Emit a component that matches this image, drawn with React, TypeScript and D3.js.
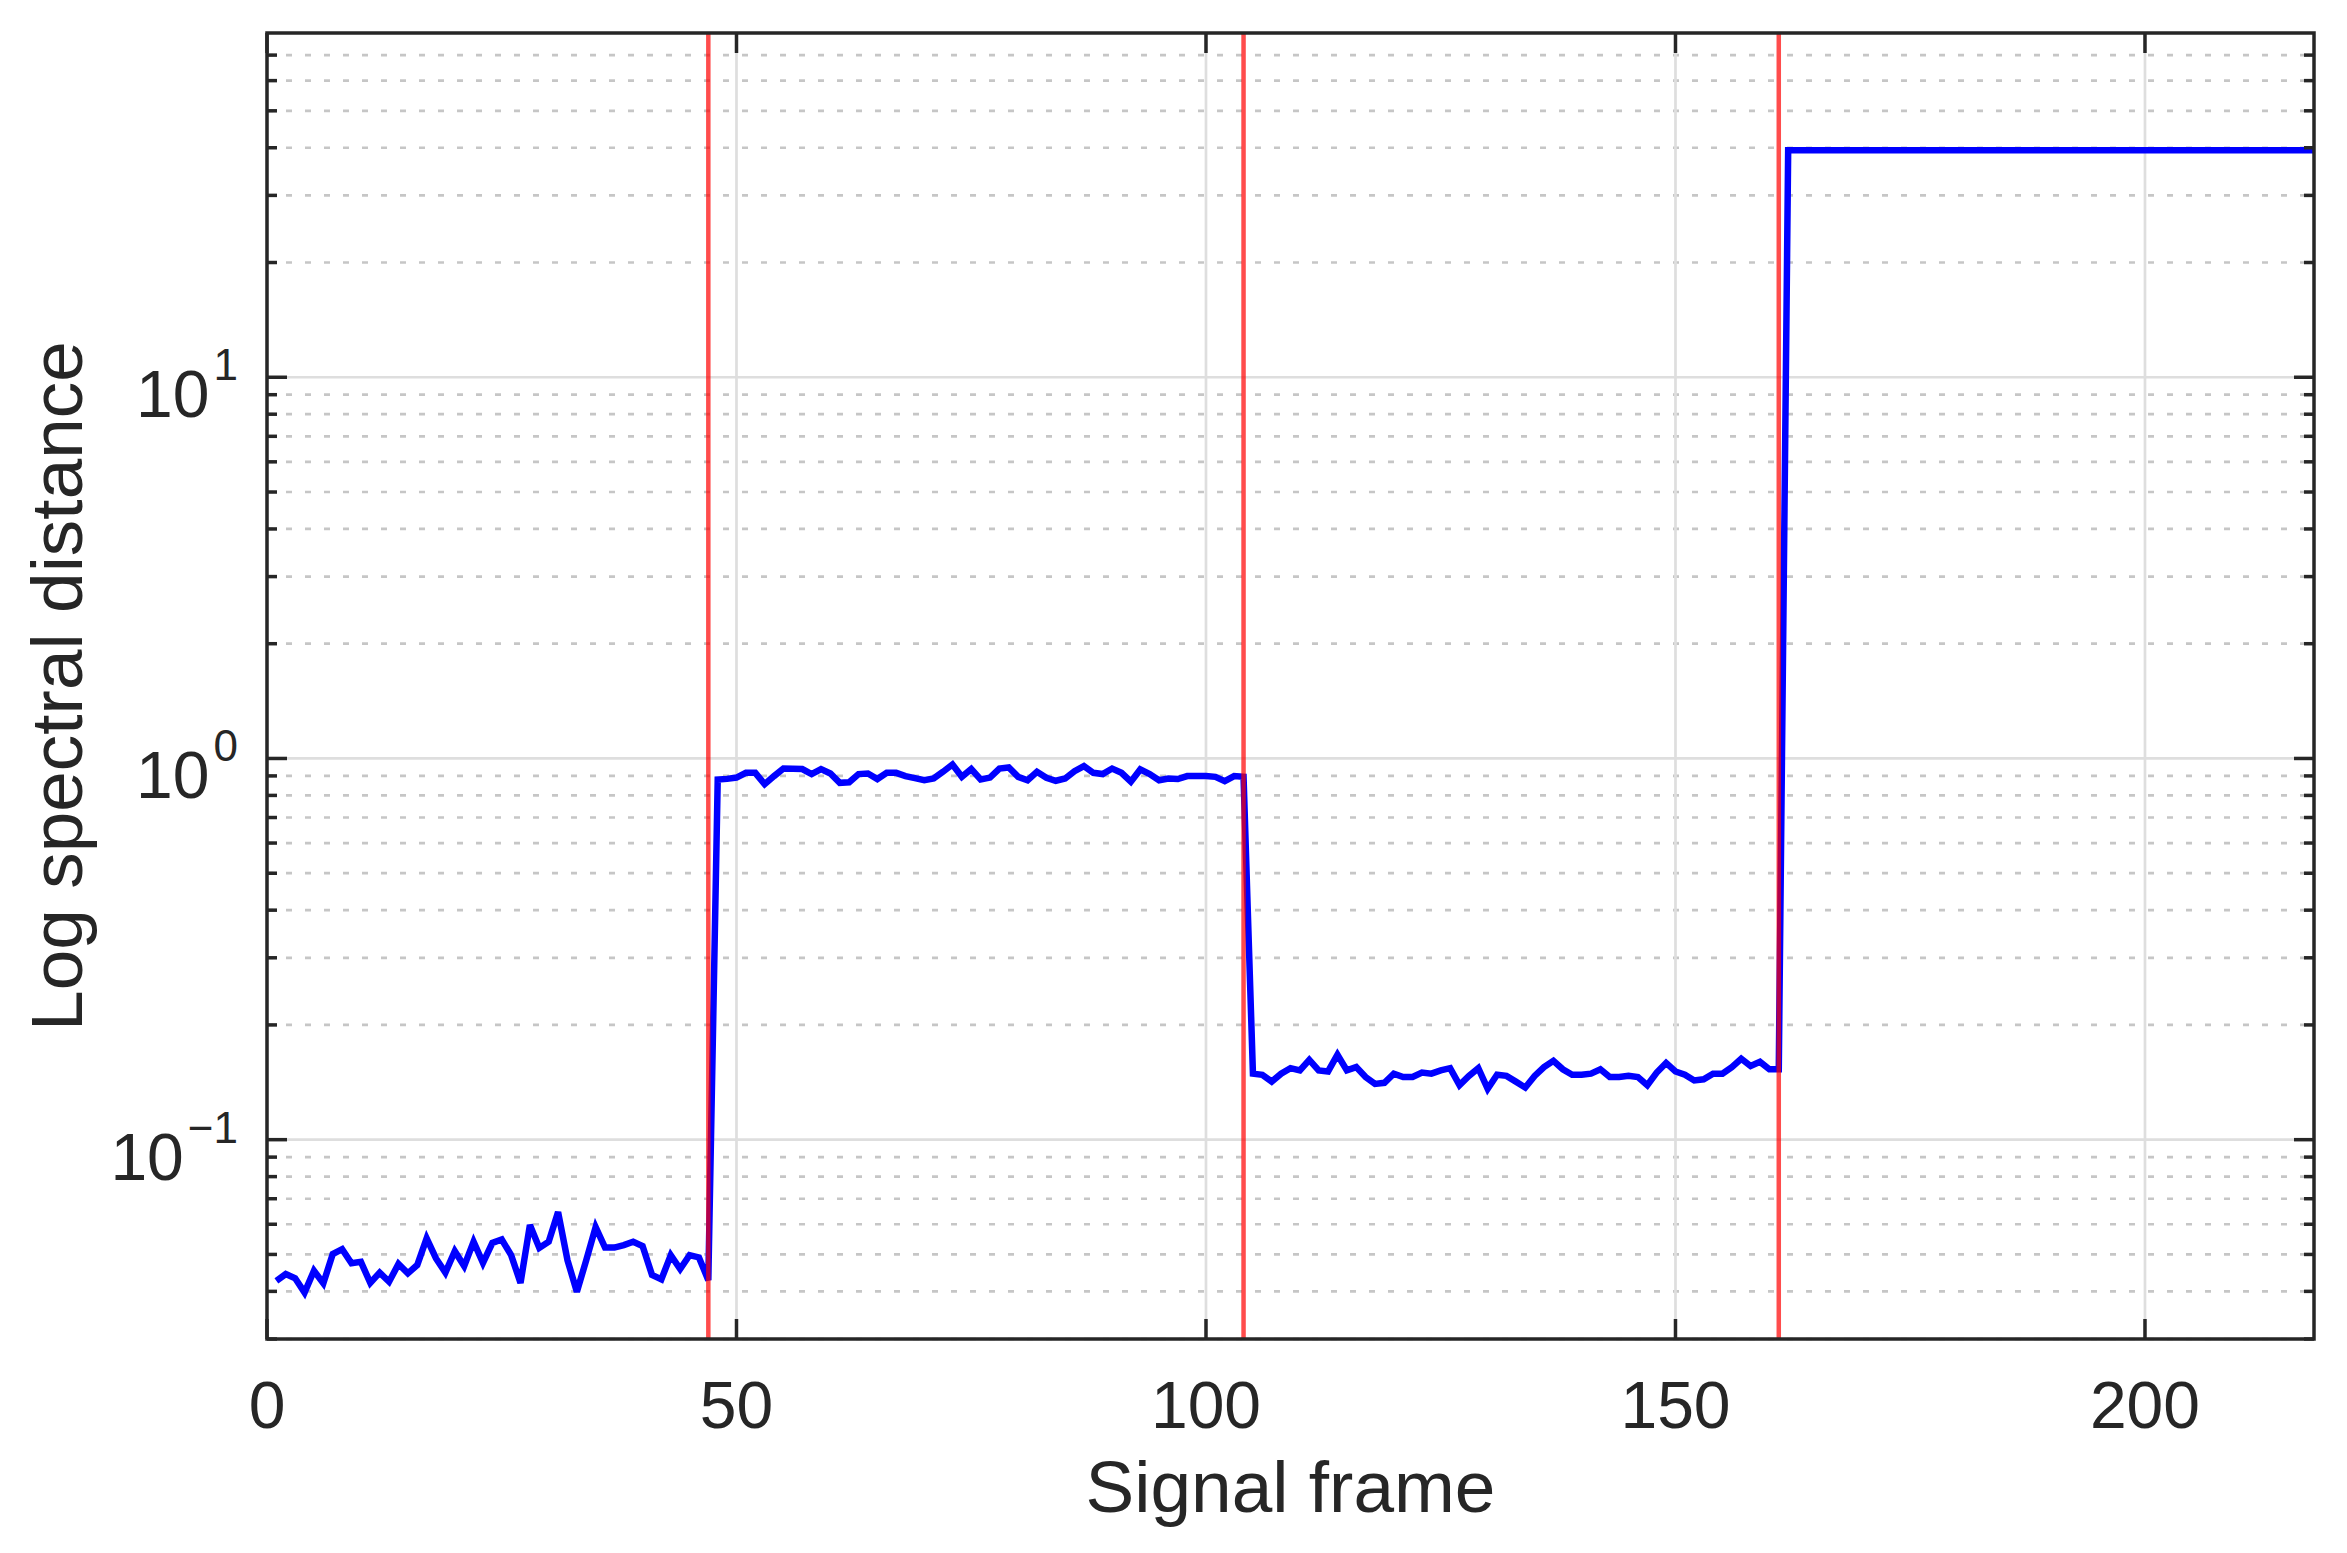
import React from 'react';
import * as d3 from 'd3';

const W = 2347;
const H = 1553;
const PLOT = { left: 267, right: 2314, top: 33, bottom: 1339 };
const X_DOMAIN: [number, number] = [0, 218];
const Y_DOMAIN: [number, number] = [0.03, 80];

const xTicks = [0, 50, 100, 150, 200];
const yMajorTicks = [0.1, 1, 10];
const yTickExponents = ['\u22121', '0', '1'];
const changePoints = [47, 104, 161];

// frames 1..47
const segmentA = [0.0426, 0.0444, 0.0433, 0.0397, 0.0453, 0.0420, 0.0501, 0.0516, 0.0474, 0.0478,
  0.0421, 0.0448, 0.0424, 0.0472, 0.0446, 0.0469, 0.0551, 0.0488, 0.0448, 0.0510,
  0.0466, 0.0540, 0.0475, 0.0536, 0.0547, 0.0498, 0.0421, 0.0597, 0.0520, 0.0540,
  0.0646, 0.0483, 0.0399, 0.0483, 0.0590, 0.0521, 0.0521, 0.0529, 0.0540, 0.0526,
  0.0442, 0.0430, 0.0498, 0.0458, 0.0498, 0.0491, 0.0428];
// frames 48..104
const segmentB = [0.881, 0.884, 0.891, 0.917, 0.917, 0.856, 0.899, 0.941, 0.940, 0.938,
  0.910, 0.938, 0.913, 0.863, 0.866, 0.910, 0.913, 0.883, 0.917, 0.917,
  0.899, 0.888, 0.877, 0.886, 0.923, 0.964, 0.895, 0.938, 0.881, 0.891,
  0.941, 0.947, 0.895, 0.877, 0.923, 0.890, 0.874, 0.886, 0.926, 0.955,
  0.917, 0.910, 0.941, 0.917, 0.869, 0.936, 0.910, 0.877, 0.886, 0.883,
  0.899, 0.899, 0.899, 0.895, 0.872, 0.899, 0.895];
// frames 105..161
const segmentC = [0.149, 0.148, 0.142, 0.149, 0.154, 0.152, 0.162, 0.152, 0.151, 0.167,
  0.152, 0.155, 0.146, 0.140, 0.141, 0.149, 0.146, 0.146, 0.150, 0.149,
  0.152, 0.154, 0.139, 0.147, 0.154, 0.136, 0.148, 0.147, 0.142, 0.137,
  0.147, 0.155, 0.161, 0.153, 0.148, 0.148, 0.149, 0.153, 0.146, 0.146,
  0.147, 0.146, 0.139, 0.150, 0.159, 0.151, 0.148, 0.143, 0.144, 0.149,
  0.149, 0.155, 0.163, 0.156, 0.160, 0.153, 0.153];
// frames 162..218
const segmentD = [39.4, 39.4, 39.4, 39.4, 39.4, 39.4, 39.4, 39.4, 39.4, 39.4,
  39.4, 39.4, 39.4, 39.4, 39.4, 39.4, 39.4, 39.4, 39.4, 39.4,
  39.4, 39.4, 39.4, 39.4, 39.4, 39.4, 39.4, 39.4, 39.4, 39.4,
  39.4, 39.4, 39.4, 39.4, 39.4, 39.4, 39.4, 39.4, 39.4, 39.4,
  39.4, 39.4, 39.4, 39.4, 39.4, 39.4, 39.4, 39.4, 39.4, 39.4,
  39.4, 39.4, 39.4, 39.4, 39.4, 39.4, 39.4];

const distances = [...segmentA, ...segmentB, ...segmentC, ...segmentD];

const FONT = 'Arial, "Liberation Sans", Helvetica, sans-serif';
const AX = '#262626';

export default function App() {
  const x = d3.scaleLinear().domain(X_DOMAIN).range([PLOT.left, PLOT.right]);
  const y = d3.scaleLog().domain(Y_DOMAIN).range([PLOT.bottom, PLOT.top]);

  const pts = distances.map((v, i) => [i + 1, v] as [number, number]);
  const linePath = d3.line<[number, number]>().x(d => x(d[0])).y(d => y(d[1]))(pts) || '';

  const minorTicks: number[] = [];
  for (let e = -2; e <= 1; e++) {
    for (let k = 2; k <= 9; k++) {
      const v = k * Math.pow(10, e);
      if (v >= Y_DOMAIN[0] && v < Y_DOMAIN[1]) minorTicks.push(v);
    }
  }

  const majorLen = 20;
  const minorLen = 10;
  const tickW = 3.5;

  return (
    <svg width={W} height={H} style={{ position: 'absolute', left: 0, top: 0, background: '#fff' }}
      xmlns="http://www.w3.org/2000/svg">
      <rect x={0} y={0} width={W} height={H} fill="#fff" />
      {/* minor grid */}
      {minorTicks.map(v => (
        <line key={'mg' + v} x1={PLOT.left} x2={PLOT.right} y1={y(v)} y2={y(v)}
          stroke="#c6c6c6" strokeWidth={2.7} strokeDasharray="6 13" />
      ))}
      {/* major grid */}
      {yMajorTicks.map(v => (
        <line key={'gy' + v} x1={PLOT.left} x2={PLOT.right} y1={y(v)} y2={y(v)}
          stroke="#dedede" strokeWidth={2.7} />
      ))}
      {xTicks.map(v => (
        <line key={'gx' + v} x1={x(v)} x2={x(v)} y1={PLOT.top} y2={PLOT.bottom}
          stroke="#dedede" strokeWidth={2.7} />
      ))}
      {/* data line */}
      <path d={linePath} fill="none" stroke="#0000ff" strokeWidth={6.5} strokeLinejoin="miter" strokeMiterlimit={3} />
      {/* change points */}
      {changePoints.map(c => (
        <line key={'cp' + c} x1={x(c)} x2={x(c)} y1={PLOT.top} y2={PLOT.bottom}
          stroke="#ff0000" strokeOpacity={0.7} strokeWidth={4.5} />
      ))}
      {/* ticks */}
      {xTicks.map(v => (
        <g key={'tx' + v}>
          <line x1={x(v)} x2={x(v)} y1={PLOT.bottom} y2={PLOT.bottom - majorLen} stroke={AX} strokeWidth={tickW} />
          <line x1={x(v)} x2={x(v)} y1={PLOT.top} y2={PLOT.top + majorLen} stroke={AX} strokeWidth={tickW} />
          <text x={x(v)} y={1428} textAnchor="middle" fontFamily={FONT} fontSize={66} fill={AX}>{v}</text>
        </g>
      ))}
      {minorTicks.map(v => (
        <g key={'mt' + v}>
          <line x1={PLOT.left} x2={PLOT.left + minorLen} y1={y(v)} y2={y(v)} stroke={AX} strokeWidth={tickW} />
          <line x1={PLOT.right} x2={PLOT.right - minorLen} y1={y(v)} y2={y(v)} stroke={AX} strokeWidth={tickW} />
        </g>
      ))}
      {yMajorTicks.map((v, i) => (
        <g key={'ty' + v}>
          <line x1={PLOT.left} x2={PLOT.left + majorLen} y1={y(v)} y2={y(v)} stroke={AX} strokeWidth={tickW} />
          <line x1={PLOT.right} x2={PLOT.right - majorLen} y1={y(v)} y2={y(v)} stroke={AX} strokeWidth={tickW} />
          <text x={238} y={y(v) + 40} textAnchor="end" fontFamily={FONT} fill={AX}>
            <tspan fontSize={66}>10</tspan>
            <tspan fontSize={44} dx={4} dy={-37}>{yTickExponents[i]}</tspan>
          </text>
        </g>
      ))}
      {/* axes box */}
      <rect x={PLOT.left} y={PLOT.top} width={PLOT.right - PLOT.left} height={PLOT.bottom - PLOT.top}
        fill="none" stroke={AX} strokeWidth={3.5} />
      {/* labels */}
      <text x={(PLOT.left + PLOT.right) / 2} y={1512} textAnchor="middle" fontFamily={FONT} fontSize={73} fill={AX}>
        Signal frame
      </text>
      <text transform={`translate(82, ${(PLOT.top + PLOT.bottom) / 2}) rotate(-90)`} textAnchor="middle"
        fontFamily={FONT} fontSize={73} fill={AX}>
        Log spectral distance
      </text>
    </svg>
  );
}
